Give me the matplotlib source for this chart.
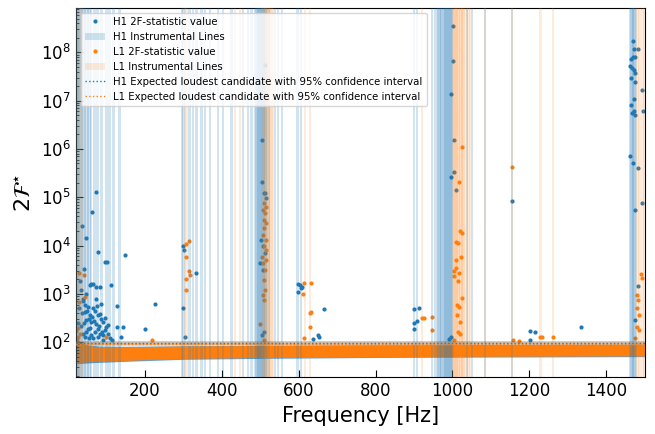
import matplotlib
matplotlib.use("Agg")
from matplotlib import pyplot as plt
from matplotlib.patches import Patch
from matplotlib.lines import Line2D

# loud outliers: (frequency in Hz, 2F value)
h1_points = [
    (73, 1.3e5), (63, 5e4), (47, 1.4e4), (37, 2.5e4), (77, 7.4e3), (95, 4.5e3), (101, 4.5e3),
    (149, 6.3e3), (111, 1.5e3), (41, 3.2e3), (60, 1.6e3), (56, 1.5e3), (64, 1.6e3), (73, 1.4e3),
    (82, 1.4e3), (47, 1e3), (38, 8e2), (73, 8e2), (86, 6.3e2), (128, 5.7e2), (225, 6.1e2),
    (199, 1.9e2), (127, 2.1e2), (144, 2.1e2), (138, 1.3e2), (52, 5.4e2), (65, 5e2), (43, 4.2e2),
    (56, 3.6e2), (77, 3.6e2), (82, 3.9e2), (47, 2.9e2), (60, 2.6e2), (73, 2.4e2), (91, 2.6e2),
    (100, 2.1e2), (104, 2.25e2), (52, 1.9e2), (69, 1.6e2), (82, 1.5e2), (95, 1.8e2), (60, 1.4e2),
    (43, 1.3e2), (77, 1.3e2), (30, 1.8e3), (35, 1.2e3), (40, 7e2), (45, 6e2), (50, 4.5e2),
    (55, 3e2), (62, 3.3e2), (68, 2.8e2), (70, 4.5e2), (75, 5.5e2), (80, 2.2e2), (85, 3e2),
    (88, 1.6e2), (92, 1.4e2), (97, 3.2e2), (105, 1.5e2), (110, 1.2e2), (115, 1.1e2), (33, 2.2e2),
    (38, 1.5e2), (28, 5e2), (25, 2.5e2), (66, 1.2e2), (54, 1.2e2), (48, 1.6e2), (58, 2e2),
    (42, 2.5e2), (36, 4e2), (79, 1.9e2), (90, 1.1e2),
    (299, 9.8e3), (302, 7.9e3), (299, 5.2e2), (304, 1.3e2), (334, 2.65e3),
    (512, 1.2e5), (514, 9.6e4), (503, 1.3e4), (508, 1e4), (512, 6.9e3), (500, 4.3e3),
    (508, 3.1e3), (510, 1.6e2), (505, 1.4e2), (512, 5.6e7), (504, 1.5e6), (504, 2.1e5),
    (510, 1.2e5),
    (597, 1.6e3), (603, 1.5e3), (608, 1.4e3), (599, 1.1e3), (606, 1.3e3), (638, 1.14e2),
    (651, 1.4e2), (653, 1.25e2), (667, 4.8e2),
    (899, 4.8e2), (912, 5e2), (899, 2.5e2), (908, 2.8e2), (899, 1.9e2),
    (997, 1.4e7), (1001, 3.5e8), (1001, 6.5e7), (1005, 1.5e6), (1003, 3.4e5), (1010, 1.4e5),
    (995, 2.6e5), (995, 1.3e2), (990, 1.14e2),
    (1155, 8.5e4), (1201, 1.7e2), (1214, 1.6e2), (1201, 1.1e2), (1334, 2.1e2),
    (1470, 1.7e8), (1472, 1.2e8), (1465, 7.4e7), (1470, 8.1e7), (1474, 8.1e7), (1463, 5.2e7),
    (1468, 4.8e7), (1472, 4.4e7), (1475, 3.8e7), (1465, 2.9e7), (1474, 2.4e7), (1472, 1.1e7),
    (1465, 8e6), (1468, 5.5e6), (1472, 6.2e6), (1475, 5.1e6), (1463, 7.2e5), (1470, 5.1e5),
    (1474, 5.5e4), (1474, 2.9e2), (1483, 1.2e8), (1494, 1.7e7), (1496, 6e6), (1483, 4e5),
    (1492, 7.7e4), (1483, 1.45e3),
]
l1_points = [
    (41, 2.5e3), (43, 8.7e2), (26, 1.3e2), (26, 2e2), (28, 2.7e3), (28, 6.9e2), (30, 1.5e2),
    (24, 1.1e2), (99, 1.3e2), (219, 1.1e2), (22, 1.7e2),
    (308, 1.07e4), (315, 1.25e4), (306, 5.9e3), (315, 3e3), (317, 2.45e3), (306, 2e3), (306, 1.2e3),
    (510, 7.6e4), (514, 6.4e4), (512, 4.7e4), (508, 5.5e4), (510, 3.4e4), (514, 2.9e4),
    (510, 2.3e4), (508, 1.66e4), (514, 1.3e4), (510, 9.6e3), (514, 8.1e3), (504, 5.9e3),
    (514, 5e3), (508, 4.3e3), (512, 3.1e3), (510, 1.9e3), (512, 1.2e3), (508, 9.5e2),
    (510, 7.4e2), (499, 2.4e2), (510, 1.1e2),
    (615, 1.7e3), (632, 1.7e3), (612, 1e3), (631, 4.25e2), (629, 4e2), (629, 2.1e2), (615, 1.2e2),
    (921, 3.1e2), (925, 3.15e2), (947, 3.35e2), (947, 1.8e2),
    (1025, 1.1e6), (1016, 2.1e5), (1019, 2e4), (1025, 1.85e4), (1010, 1.2e4), (1014, 1.15e4),
    (1022, 5.7e3), (1008, 5e3), (1010, 3.4e3), (1005, 2.9e3), (1016, 2.7e3), (1014, 1.8e3),
    (1003, 2.3e3), (1025, 8.3e2), (1012, 5.9e2), (1016, 5.4e2), (1012, 3.6e2), (1019, 2.6e2),
    (1014, 1.6e2), (1020, 1.5e2), (1003, 1.1e2),
    (1155, 4.3e5), (1157, 1.1e2), (1172, 1.05e2), (1227, 1.25e2), (1234, 1.25e2), (1262, 1.3e2),
    (1490, 2.6e3), (1492, 2.1e3), (1481, 9.5e2), (1483, 7.4e2), (1481, 5e2), (1486, 3.6e2),
    (1480, 2.1e2), (1486, 1.8e2), (1474, 1.2e2),
]

# bulk of the candidates: lower / upper edge of the dense band
band_freq = [20, 30, 50, 80, 150, 300, 500, 800, 1100, 1500]
h1_band_low = [36, 36, 37, 38, 40, 44, 46, 48, 49, 50]
h1_band_high = [130, 100, 88, 83, 82, 84, 86, 88, 89, 90]
l1_band_low = [38, 38, 39, 40, 42, 46, 48, 50, 51, 52]
l1_band_high = [120, 95, 85, 80, 80, 83, 85, 87, 88, 89]

# expected loudest candidate and 95% interval
expected_freq = [20, 1500]
h1_expected = [95, 95]
h1_expected_lo = [88, 88]
h1_expected_hi = [103, 103]
l1_expected = [92, 92]
l1_expected_lo = [85, 85]
l1_expected_hi = [100, 100]

# instrumental lines (centre frequency, Hz)
h1_lines = [22, 24, 26, 28, 30, 34, 37, 40, 44, 48, 52, 56, 60, 69, 77, 87, 100, 108, 118, 134,
            296, 300, 316, 325, 334, 347, 356, 369, 390, 403, 425, 455, 469, 477,
            486, 490, 492, 494, 496, 498, 500, 502, 504, 506, 508, 510, 512, 514, 518, 522,
            538, 546, 556, 597, 606, 899, 908,
            947, 955, 960, 963, 966, 968, 970, 972, 975, 978, 980, 982, 984, 986, 988, 990,
            992, 994, 996, 998, 1000, 1038, 1051, 1084, 1155,
            1462, 1465, 1468, 1470, 1471, 1474, 1477]
l1_lines = [24, 28, 32, 38, 304, 308, 434, 447,
            505, 510, 512, 515, 518, 520, 523, 525, 527, 530, 533, 616, 629, 921,
            1003, 1006, 1008, 1010, 1012, 1014, 1016, 1019, 1021, 1024, 1026, 1029, 1033,
            1038, 1042, 1046, 1084, 1155, 1229, 1262,
            1481, 1486, 1490, 1495, 1499]

c_h1 = "#1f77b4"
c_l1 = "#ff7f0e"
half = 3

h1_f = [p[0] for p in h1_points]
h1_v = [p[1] for p in h1_points]
l1_f = [p[0] for p in l1_points]
l1_v = [p[1] for p in l1_points]

fig = plt.figure(figsize=(6.55, 4.34), dpi=100)
ax = fig.add_axes([0.1156, 0.1302, 0.8687, 0.8525])

ax.fill_between(band_freq, h1_band_low, h1_band_high, color=c_h1, alpha=0.7, lw=0, zorder=1)
ax.fill_between(band_freq, l1_band_low, l1_band_high, color=c_l1, lw=0, zorder=1.1)
ax.scatter(h1_f, h1_v, s=9, color=c_h1, lw=0, zorder=2)
ax.scatter(l1_f, l1_v, s=9, color=c_l1, lw=0, zorder=2)

for f in h1_lines:
    ax.axvspan(f - half, f + half, color=c_h1, alpha=0.2, lw=0, zorder=3)
for f in l1_lines:
    ax.axvspan(f - half, f + half, color=c_l1, alpha=0.15, lw=0, zorder=3)

ax.fill_between(expected_freq, h1_expected_lo, h1_expected_hi, color=c_h1, alpha=0.3, lw=0, zorder=4)
ax.fill_between(expected_freq, l1_expected_lo, l1_expected_hi, color=c_l1, alpha=0.3, lw=0, zorder=4)
ax.plot(expected_freq, h1_expected, ls=":", color=c_h1, lw=1, zorder=5)
ax.plot(expected_freq, l1_expected, ls=":", color=c_l1, lw=1, zorder=5)

ax.set_yscale("log")
ax.set_xlim(20, 1500)
ax.set_ylim(18.5, 8.5e8)
ax.set_xticks([200, 400, 600, 800, 1000, 1200, 1400])
ax.tick_params(which="both", direction="in", labelsize=12)
ax.tick_params(which="major", length=5)
ax.set_xlabel("Frequency [Hz]", fontsize=15)
ax.set_ylabel(r"$2\mathcal{F}^{\star}$", fontsize=16)

handles = [
    Line2D([], [], ls="", marker=".", ms=4, color=c_h1),
    Patch(facecolor=c_h1, alpha=0.2),
    Line2D([], [], ls="", marker=".", ms=4, color=c_l1),
    Patch(facecolor=c_l1, alpha=0.15),
    Line2D([], [], ls=":", lw=1, color=c_h1),
    Line2D([], [], ls=":", lw=1, color=c_l1),
]
labels = [
    "H1 2F-statistic value",
    "H1 Instrumental Lines",
    "L1 2F-statistic value",
    "L1 Instrumental Lines",
    "H1 Expected loudest candidate with 95% confidence interval",
    "L1 Expected loudest candidate with 95% confidence interval",
]
ax.legend(handles, labels, loc="upper left", fontsize=7.3)

fig.savefig("out.png", dpi=100)
